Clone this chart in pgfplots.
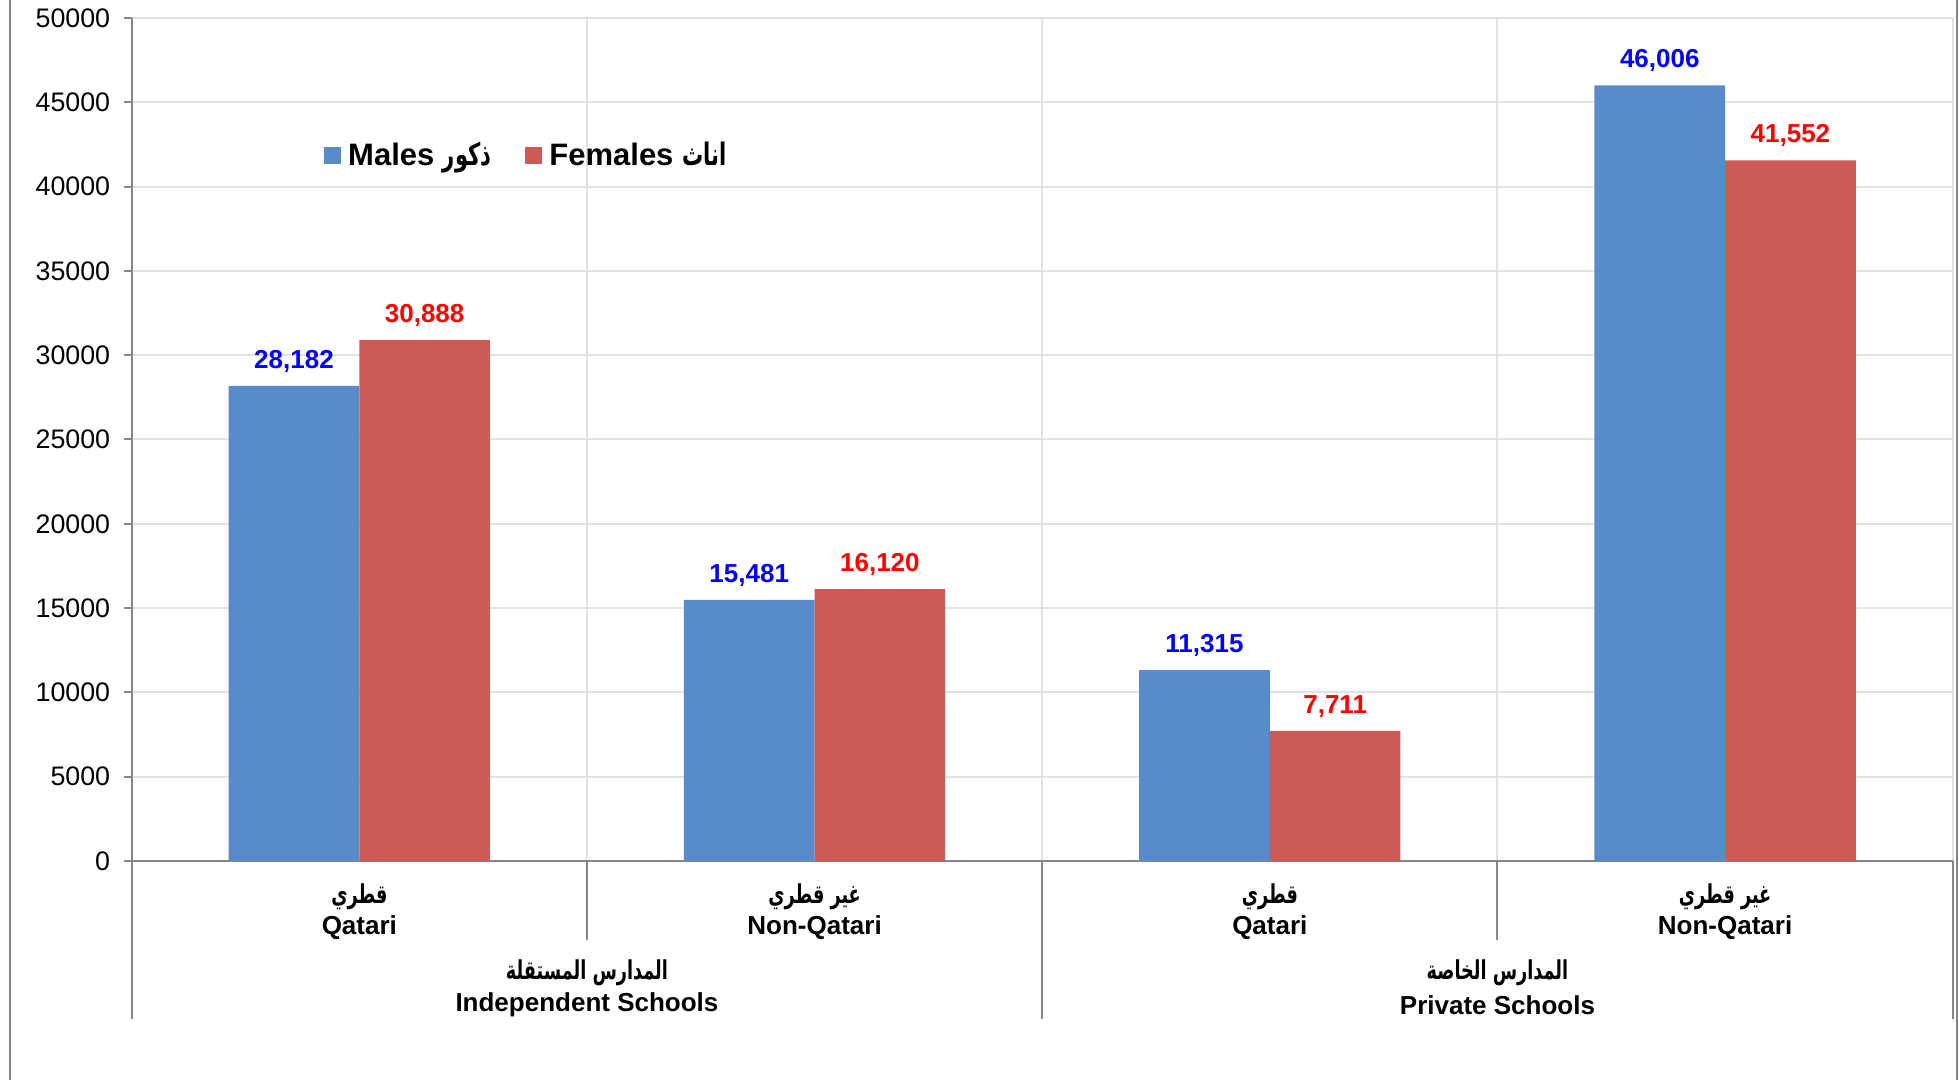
\documentclass[border=0pt]{standalone}
\usepackage{pgfplots}
\pgfplotsset{compat=1.18}
\usepackage{fontspec}
\setmainfont{Liberation Sans}
\newfontfamily\arabicfont[Script=Arabic, FakeStretch=0.68]{DejaVu Sans}
\TeXXeTstate=1
\definecolor{barblue}{RGB}{87,139,202}
\definecolor{barred}{RGB}{205,90,86}
\definecolor{gridgray}{RGB}{226,226,226}
\definecolor{axisgray}{RGB}{134,134,134}
\newcommand{\ar}[1]{{\arabicfont\beginR #1\endR}}

\begin{document}
\begin{tikzpicture}
\useasboundingbox (-65.85pt,-109.5pt) rectangle (913.65pt,430.5pt);
\draw[axisgray, line width=1pt] (-60.85pt,-109.5pt) -- (-60.85pt,430.5pt);
\draw[axisgray, line width=1pt] (912.65pt,-109.5pt) -- (912.65pt,430.5pt);
\begin{axis}[
  at={(0,0)}, anchor=south west,
  scale only axis, width=910.5pt, height=421.5pt,
  ybar=0pt, bar width=0.287,
  every axis plot/.append style={legend image code/.code={\fill[#1,draw=none] (0pt,-4.25pt) rectangle (8.5pt,4.25pt);}},
  xmin=-0.5, xmax=3.5, ymin=0, ymax=50000,
  enlargelimits=false, clip=false,
  axis lines*=left,
  axis line style={draw=axisgray, line width=1pt},
  xtick={0.5,1.5,2.5,3.5}, xticklabels={,,,},
  xtick style={draw=none},
  ytick={0,5000,...,50000},
  scaled y ticks=false,
  ytick style={draw=axisgray, line width=1pt},
  tick align=outside, major tick length=3.75pt,
  xmajorgrids, ymajorgrids,
  grid style={draw=gridgray, line width=1pt},
  tick label style={font=\fontsize{13.4}{16}\selectfont},
  yticklabel style={xshift=-3.5pt, /pgf/number format/fixed, /pgf/number format/1000 sep={}, /pgf/number format/assume math mode=true},
  nodes near coords={\pgfmathprintnumber[fixed,precision=0,1000 sep={,},assume math mode=true]{\pgfplotspointmeta}},
  every node near coord/.append style={font=\bfseries\fontsize{13}{15}\selectfont, anchor=base, yshift=8.75pt, inner sep=0pt},
  legend style={at={(axis description cs:0.1055,0.837)}, anchor=west, draw=none, fill=none, inner sep=0pt,
    font=\bfseries\fontsize{15.5}{18}\selectfont,
    /tikz/every odd column/.append style={column sep=1.5pt},
    /tikz/every even column/.append style={column sep=15pt}},
  legend columns=2, legend cell align=left,
]
\addplot[fill=barblue, draw=none, every node near coord/.append style={text=blue}]
  coordinates {(0,28182) (1,15481) (2,11315) (3,46006)};
\addplot[fill=barred, draw=none, every node near coord/.append style={text=red}]
  coordinates {(0,30888) (1,16120) (2,7711) (3,41552)};
\addlegendentry{Males \ar{ذكور}}
\addlegendentry{Females \ar{اناث}}

% separators under the axis
\draw[axisgray, line width=1pt] (axis cs:-0.5,0) -- ++(0pt,-79pt);
\draw[axisgray, line width=1pt] (axis cs:1.5,0) -- ++(0pt,-79pt);
\draw[axisgray, line width=1pt] (axis cs:3.5,0) -- ++(0pt,-79pt);
\draw[axisgray, line width=1pt] (axis cs:0.5,0) -- ++(0pt,-39.5pt);
\draw[axisgray, line width=1pt] (axis cs:2.5,0) -- ++(0pt,-39.5pt);

% category labels
\begin{scope}[every node/.style={font=\bfseries\fontsize{13}{15}\selectfont, inner sep=0pt}]
\node at ([yshift=-17.9pt]axis cs:0,0) {\ar{قطري}};
\node at ([yshift=-33.4pt]axis cs:0,0) {Qatari};
\node at ([yshift=-17.9pt]axis cs:1,0) {\ar{غير قطري}};
\node at ([yshift=-33.4pt]axis cs:1,0) {Non-Qatari};
\node at ([yshift=-17.9pt]axis cs:2,0) {\ar{قطري}};
\node at ([yshift=-33.4pt]axis cs:2,0) {Qatari};
\node at ([yshift=-17.9pt]axis cs:3,0) {\ar{غير قطري}};
\node at ([yshift=-33.4pt]axis cs:3,0) {Non-Qatari};
\node at ([yshift=-55.9pt]axis cs:0.5,0) {\ar{المدارس المستقلة}};
\node at ([yshift=-71.9pt]axis cs:0.5,0) {Independent Schools};
\node at ([yshift=-55.9pt]axis cs:2.5,0) {\ar{المدارس الخاصة}};
\node at ([yshift=-71.9pt]axis cs:2.5,0) {Private Schools};
\end{scope}
\end{axis}
\end{tikzpicture}
\end{document}
